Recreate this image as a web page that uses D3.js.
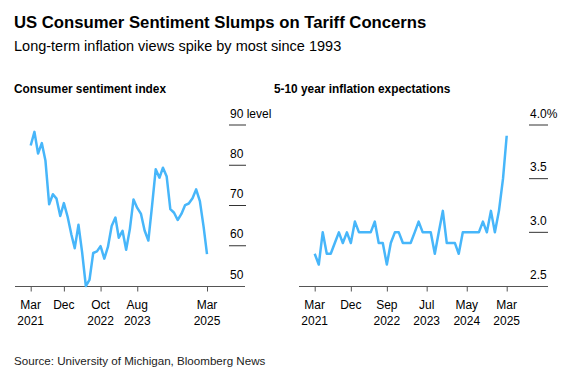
<!DOCTYPE html>
<html>
<head>
<meta charset="utf-8">
<script src="https://cdn.jsdelivr.net/npm/d3@7"></script>
<style>
  html, body { margin: 0; padding: 0; background: #fff; }
  svg { display: block; }
  text { font-family: "Liberation Sans", Arial, Helvetica, sans-serif; fill: #000; }
</style>
</head>
<body>
<svg id="chart" width="571" height="379"></svg>
<script>
// ---------------- DATA ----------------
const title = "US Consumer Sentiment Slumps on Tariff Concerns";
const subtitle = "Long-term inflation views spike by most since 1993";
const source = "Source: University of Michigan, Bloomberg News";

const leftTitle = "Consumer sentiment index";
const rightTitle = "5-10 year inflation expectations";

const startMonth = "2021-03";
const endMonth = "2025-03";

// University of Michigan consumer sentiment, monthly Mar 2021 - Mar 2025
const sentiment = [
  84.9, 88.3, 82.9, 85.5, 81.2, 70.3, 72.8, 71.7, 67.4, 70.6,
  67.2, 62.8, 59.4, 65.2, 58.4, 50.0, 51.5, 58.2, 58.6, 59.9, 56.8, 59.7,
  64.9, 67.0, 62.0, 63.7, 59.0, 64.2, 71.5, 69.4, 67.9, 63.8, 61.3, 69.7,
  79.0, 76.9, 79.4, 77.2, 69.1, 68.2, 66.4, 67.9, 70.1, 70.5, 71.8, 74.0,
  71.1, 64.7, 57.9
];

// 5-10 year inflation expectations (%), monthly Mar 2021 - Mar 2025
const expectations = [
  2.8, 2.7, 3.0, 2.8, 2.8, 2.9, 3.0, 2.9, 3.0, 2.9,
  3.1, 3.0, 3.0, 3.0, 3.0, 3.1, 2.9, 2.9, 2.7, 2.9, 3.0, 3.0,
  2.9, 2.9, 2.9, 3.0, 3.1, 3.0, 3.0, 3.0, 2.8, 3.0, 3.2, 2.9,
  2.9, 2.9, 2.8, 3.0, 3.0, 3.0, 3.0, 3.0, 3.1, 3.0, 3.2, 3.0,
  3.2, 3.5, 3.9
];

const leftYTicks = [50, 60, 70, 80, 90];
const leftYLabels = ["50", "60", "70", "80", "90 level"];
const leftXTicks = ["2021-03", "2021-12", "2022-10", "2023-08", "2025-03"];
const leftXMonth = ["Mar", "Dec", "Oct", "Aug", "Mar"];
const leftXYear = ["2021", "", "2022", "2023", "2025"];

const rightYTicks = [2.5, 3.0, 3.5, 4.0];
const rightYLabels = ["2.5", "3.0", "3.5", "4.0%"];
const rightXTicks = ["2021-03", "2021-12", "2022-09", "2023-07", "2024-05", "2025-03"];
const rightXMonth = ["Mar", "Dec", "Sep", "Jul", "May", "Mar"];
const rightXYear = ["2021", "", "2022", "2023", "2024", "2025"];

// ---------------- DRAW ----------------
const parse = d3.timeParse("%Y-%m");
const months = d3.timeMonth.range(parse(startMonth), d3.timeMonth.offset(parse(endMonth), 1));

const svg = d3.select("#chart");
const lineColor = "#47b6fa";

svg.append("text").attr("x", 14).attr("y", 28)
  .style("font-size", "16.7px").style("font-weight", "bold").text(title);
svg.append("text").attr("x", 14).attr("y", 50.5)
  .style("font-size", "14.5px").text(subtitle);
svg.append("text").attr("x", 14).attr("y", 365)
  .style("font-size", "11.6px").style("fill", "#222").text(source);

function panel(cfg) {
  const g = svg.append("g");
  const x = d3.scaleTime().domain([parse(startMonth), parse(endMonth)]).range(cfg.xRange);
  const y = d3.scaleLinear().domain(cfg.yDomain).range([286, 125]);

  g.append("text").attr("x", cfg.titleX).attr("y", 92.5)
    .style("font-size", "11.85px").style("font-weight", "bold").text(cfg.title);

  // y gridline stubs + labels (right side)
  const yt = g.append("g");
  cfg.yTicks.forEach((v, i) => {
    if (i > 0) {
      yt.append("line")
        .attr("x1", cfg.gridX[0]).attr("x2", cfg.gridX[1])
        .attr("y1", y(v)).attr("y2", y(v))
        .attr("stroke", "#333").attr("stroke-width", 1);
    }
    yt.append("text").attr("x", cfg.labelX).attr("y", y(v) - 7.5)
      .style("font-size", "12px").text(cfg.yLabels[i]);
  });

  // x axis
  const xAxis = d3.axisBottom(x)
    .tickValues(cfg.xTicks.map(parse))
    .tickSize(5)
    .tickFormat("");
  const ax = g.append("g").attr("transform", "translate(0,286.5)").call(xAxis);
  ax.select(".domain").remove();
  ax.selectAll(".tick line").attr("stroke", "#555");
  g.append("line").attr("x1", cfg.axisX[0]).attr("x2", cfg.axisX[1])
    .attr("y1", 286.5).attr("y2", 286.5).attr("stroke", "#555").attr("stroke-width", 1.2);

  cfg.xTicks.forEach((t, i) => {
    const tx = x(parse(t));
    g.append("text").attr("x", tx).attr("y", 308.5).attr("text-anchor", "middle")
      .style("font-size", "12px").text(cfg.xMonth[i]);
    if (cfg.xYear[i]) {
      g.append("text").attr("x", tx).attr("y", 324.5).attr("text-anchor", "middle")
        .style("font-size", "12px").text(cfg.xYear[i]);
    }
  });

  const line = d3.line().x((d, i) => x(months[i])).y(d => y(d));
  g.append("path").datum(cfg.values)
    .attr("d", line)
    .attr("fill", "none")
    .attr("stroke", lineColor)
    .attr("stroke-width", 2.5)
    .attr("stroke-linejoin", "round");
}

panel({
  title: leftTitle, titleX: 14,
  xRange: [30.7, 207], axisX: [15, 245],
  yDomain: [50, 90], yTicks: leftYTicks, yLabels: leftYLabels,
  gridX: [229, 246], labelX: 230,
  xTicks: leftXTicks, xMonth: leftXMonth, xYear: leftXYear,
  values: sentiment
});

panel({
  title: rightTitle, titleX: 274,
  xRange: [314.7, 506.7], axisX: [299, 548],
  yDomain: [2.5, 4.0], yTicks: rightYTicks, yLabels: rightYLabels,
  gridX: [529, 548], labelX: 530,
  xTicks: rightXTicks, xMonth: rightXMonth, xYear: rightXYear,
  values: expectations
});
</script>
</body>
</html>
